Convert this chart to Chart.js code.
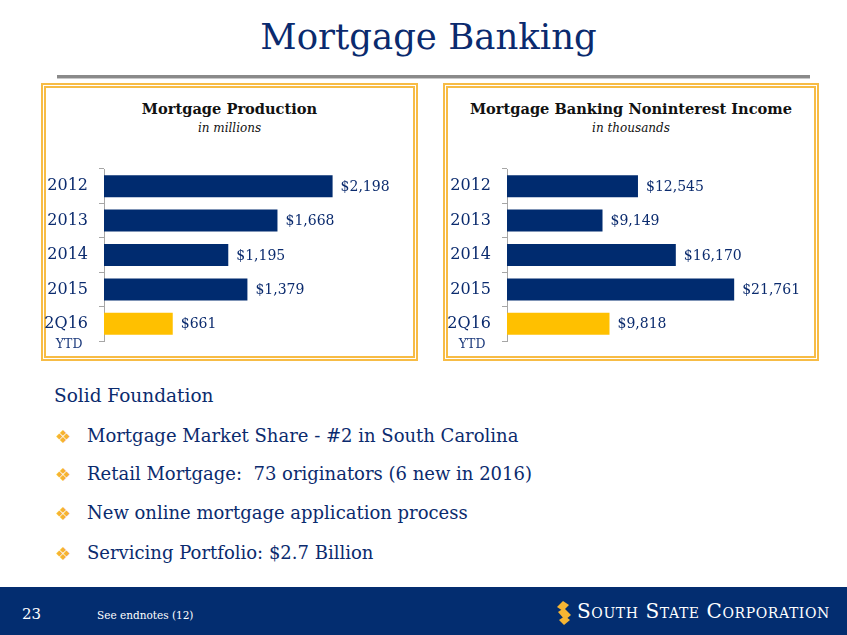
<!DOCTYPE html>
<html>
<head>
<meta charset="utf-8">
<script src="https://cdn.jsdelivr.net/npm/chart.js@4.4.1/dist/chart.umd.min.js"></script>
<style>
  html, body { margin: 0; padding: 0; background: #fff; }
  body { width: 847px; height: 635px; position: relative; overflow: hidden; font-family: "DejaVu Serif", Georgia, serif; color: #0B2B6E; }
  .abs { position: absolute; white-space: nowrap; line-height: normal; }
  #title { left: 5px; width: 847px; text-align: center; top: 16px; font-size: 35.5px; color: #0A2A6E; }
  #rule { left: 57px; top: 75px; width: 753px; height: 3px; background: #8A8A8A; border-bottom: 1px solid #C9C9C9; }
  .box { position: absolute; top: 83px; height: 278px; box-sizing: border-box; border: 5px double #F7BC45; }
  .ctitle { font-weight: bold; font-size: 14.6px; color: #111; text-align: center; }
  .csub { font-style: italic; font-size: 12px; color: #111; text-align: center; }
  canvas { position: absolute; }
  .bl { font-size: 18px; color: #0B2B6E; }
  .ic { font-family: "DejaVu Sans"; font-size: 18px; color: #F6B233; }
  #footer { position: absolute; left: 0; top: 587px; width: 847px; height: 48px; background: #032D70; }
</style>
</head>
<body>
<div id="title" class="abs">Mortgage Banking</div>
<div id="rule" class="abs"></div>

<div class="box" style="left:41px; width:377px;"></div>
<div class="box" style="left:443px; width:376px;"></div>

<div class="abs ctitle" style="left:41px; width:377px; top:100px;">Mortgage Production</div>
<div class="abs csub" style="left:41px; width:377px; top:121px;">in millions</div>
<div class="abs ctitle" style="left:443px; width:376px; top:100px;">Mortgage Banking Noninterest Income</div>
<div class="abs csub" style="left:443px; width:376px; top:121px;">in thousands</div>

<canvas id="c1" width="369" height="192" style="left:45px; top:164px;"></canvas>
<canvas id="c2" width="368" height="192" style="left:447px; top:164px;"></canvas>

<div class="abs bl" style="left:54px; top:385px; font-size:18.5px;">Solid Foundation</div>
<div class="abs ic" style="left:55px; top:426px;">❖</div>
<div class="abs bl" style="left:87px; top:425px;">Mortgage Market Share - #2 in South Carolina</div>
<div class="abs ic" style="left:55px; top:464px;">❖</div>
<div class="abs bl" style="left:87px; top:463px;">Retail Mortgage:&nbsp; 73 originators (6 new in 2016)</div>
<div class="abs ic" style="left:55px; top:503px;">❖</div>
<div class="abs bl" style="left:87px; top:502px;">New online mortgage application process</div>
<div class="abs ic" style="left:55px; top:543px;">❖</div>
<div class="abs bl" style="left:87px; top:542px;">Servicing Portfolio: $2.7 Billion</div>

<div id="footer"></div>
<div class="abs" style="left:22px; top:605px; font-size:15px; color:#fff;">23</div>
<div class="abs" style="left:97px; top:609px; font-size:10.5px; color:#fff;">See endnotes (12)</div>
<svg class="abs" style="left:554px; top:599px;" width="20" height="27" viewBox="0 0 20 27">
  <path d="M3 8 L9 2 L15 6 L9 12 Z" fill="#F6B533"/>
  <path d="M4 13 L10 9 L17 16 L11 21 Z" fill="#F6B533"/>
  <path d="M5 21 L11 17 L16 21 L10 26 Z" fill="#F6B533"/>
</svg>
<div class="abs" style="left:577px; top:599px; font-size:20px; letter-spacing:0.6px; color:#fff; font-variant:small-caps;">South State Corporation</div>

<script>
// ---- data ----
const categories = ["2012", "2013", "2014", "2015", "2Q16"];
const productionValues = [2198, 1668, 1195, 1379, 661];
const incomeValues = [12545, 9149, 16170, 21761, 9818];
const productionLabels = ["$2,198", "$1,668", "$1,195", "$1,379", "$661"];
const incomeLabels = ["$12,545", "$9,149", "$16,170", "$21,761", "$9,818"];
const subLabel = "YTD";

const barColors = ["#002B6F", "#002B6F", "#002B6F", "#002B6F", "#FFC000"];
const FONT = "DejaVu Serif";
const TICK_LEN = 5;
const TICK_PAD = 11;

function makeChart(id, values, labels, xmax, axisWidth, padRight) {
  const valueLabelPlugin = {
    id: "valueLabels" + id,
    afterDatasetsDraw(chart) {
      const ctx = chart.ctx;
      const meta = chart.getDatasetMeta(0);
      ctx.save();
      ctx.font = "14px '" + FONT + "'";
      ctx.fillStyle = "#0B2B6E";
      ctx.textBaseline = "middle";
      ctx.textAlign = "left";
      meta.data.forEach((el, i) => {
        ctx.fillText(labels[i], el.x + 8, el.y + 1);
      });
      // YTD under last category label
      const ys = chart.scales.y;
      ctx.font = "16px '" + FONT + "'";
      const w = ctx.measureText(categories[4]).width;
      const cx = ys.right - TICK_LEN - TICK_PAD - w / 2 + 3;
      ctx.font = "12.5px '" + FONT + "'";
      ctx.fillStyle = "#1C3A7C";
      ctx.textAlign = "center";
      ctx.fillText(subLabel, cx, ys.getPixelForValue(4) + 21);
      ctx.restore();
    }
  };
  return new Chart(document.getElementById(id), {
    type: "bar",
    data: {
      labels: categories,
      datasets: [{
        data: values,
        backgroundColor: barColors,
        borderWidth: 0,
        barPercentage: 0.64,
        categoryPercentage: 1.0
      }]
    },
    options: {
      indexAxis: "y",
      responsive: false,
      animation: false,
      devicePixelRatio: 1,
      layout: { padding: { top: 5, bottom: 15, left: 0, right: padRight } },
      plugins: { legend: { display: false }, tooltip: { enabled: false } },
      scales: {
        x: { display: false, min: 0, max: xmax },
        y: {
          position: "left",
          grid: { display: true, drawOnChartArea: false, drawTicks: true, tickLength: TICK_LEN, color: "#A6A6A6", offset: true },
          border: { display: true, color: "#A6A6A6", width: 1 },
          ticks: { color: "#0B2B6E", font: { family: FONT, size: 16 }, padding: TICK_PAD },
          afterFit(scale) {
            scale.width = axisWidth;
            scale.paddingTop = 0;
            scale.paddingBottom = 0;
          }
        }
      }
    },
    plugins: [valueLabelPlugin]
  });
}

makeChart("c1", productionValues, productionLabels, 2500, 59, 50);
makeChart("c2", incomeValues, incomeLabels, 25000, 60, 47);
</script>
</body>
</html>
